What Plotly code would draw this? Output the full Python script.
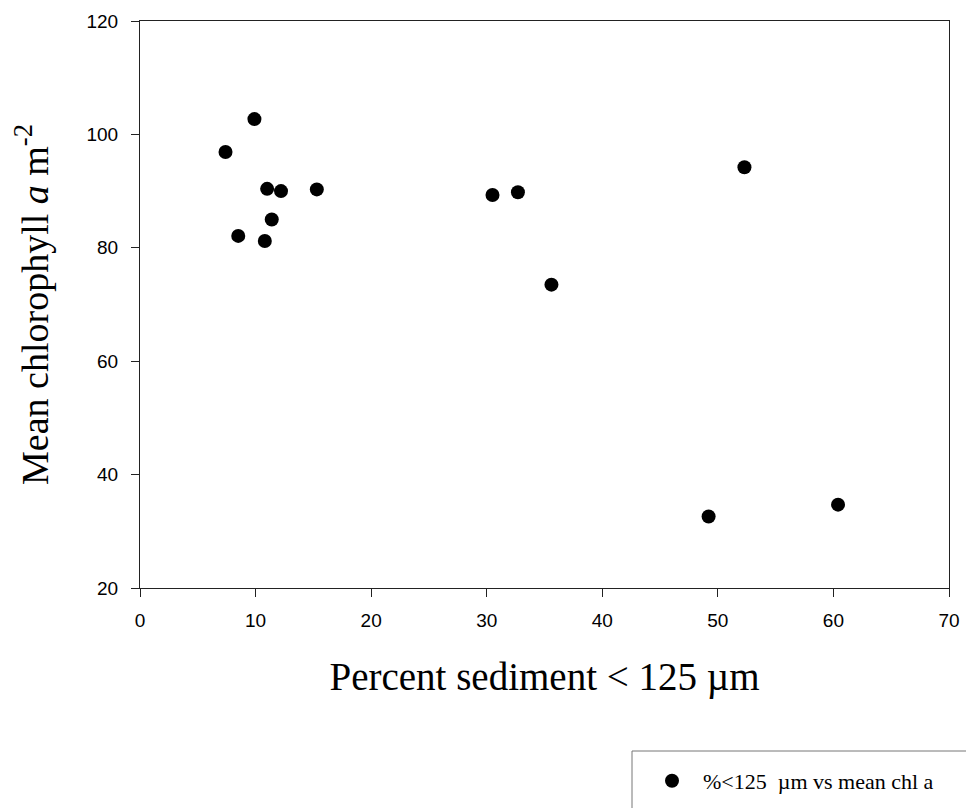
import plotly.graph_objects as go

# Data
pct_fine = [7.4, 8.5, 9.9, 10.8, 11.0, 11.4, 12.2, 15.3, 30.5, 32.7, 35.6, 49.2, 52.3, 60.4]
mean_chl = [96.9, 82.1, 102.7, 81.2, 90.4, 85.0, 90.0, 90.3, 89.3, 89.8, 73.5, 32.6, 94.2, 34.7]
x_ticks = [0, 10, 20, 30, 40, 50, 60, 70]
y_ticks = [20, 40, 60, 80, 100, 120]

serif = "Times New Roman, Liberation Serif, serif"
sans = "Arial, Liberation Sans, sans-serif"

fig = go.Figure()
fig.add_trace(go.Scatter(
    x=pct_fine, y=mean_chl, mode="markers",
    name="\u00a0\u00a0%<125 \u00a0µm vs mean chl a",
    marker=dict(color="black", size=14, line=dict(width=0)),
))

axis_common = dict(
    showline=True, linecolor="#222", linewidth=1, mirror=True,
    ticks="outside", ticklen=8, tickwidth=1, tickcolor="#222",
    showgrid=False, zeroline=False,
    tickfont=dict(family=sans, size=19, color="black"),
)

fig.update_layout(
    width=966, height=808,
    margin=dict(l=140, r=17, t=21, b=220, autoexpand=False),
    paper_bgcolor="white", plot_bgcolor="white",
    xaxis=dict(range=[0, 70], tickvals=x_ticks, ticklabelstandoff=7,
               title=dict(text="Percent sediment < 125 µm",
                          font=dict(family=serif, size=39, color="black"),
                          standoff=32),
               **axis_common),
    yaxis=dict(range=[20, 120], tickvals=y_ticks, ticklabelstandoff=9,
               title=dict(text="Mean chlorophyll <i>a</i> m<sup>-2</sup>",
                          font=dict(family=serif, size=38, color="black"),
                          standoff=26),
               **axis_common),
    showlegend=True,
    legend=dict(x=(652 - 140) / 809, xanchor="left",
                y=(588 - 760) / 567, yanchor="top",
                font=dict(family=serif, size=22, color="black"),
                bgcolor="rgba(0,0,0,0)", borderwidth=0),
    shapes=[dict(type="rect", xref="paper", yref="paper",
                 x0=(632 - 140) / 809, x1=1.2,
                 y0=(588 - 751) / 567, y1=-0.6,
                 line=dict(color="#777", width=1), fillcolor="rgba(0,0,0,0)")],
)

fig.write_html("out.html", config={"displayModeBar": False},
               post_script="document.body.style.margin='0';")
